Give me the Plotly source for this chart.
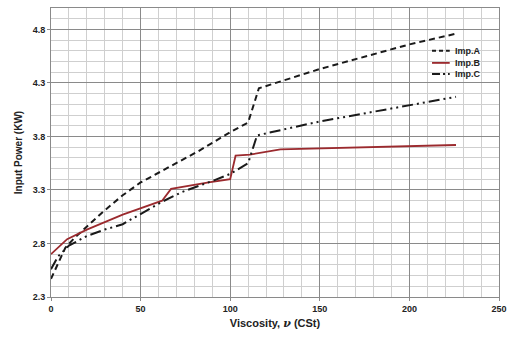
import plotly.graph_objects as go

# Data
imp_a_x = [0, 8, 13, 20, 30, 40, 50, 82, 100, 110, 113, 116, 150, 200, 226]
imp_a_y = [2.47, 2.76, 2.85, 2.96, 3.11, 3.25, 3.37, 3.66, 3.84, 3.93, 4.08, 4.25, 4.43, 4.66, 4.76]

imp_b_x = [0, 9, 20, 40, 62, 67, 88, 100, 103, 111, 128, 150, 200, 226]
imp_b_y = [2.70, 2.84, 2.93, 3.07, 3.20, 3.31, 3.37, 3.40, 3.62, 3.63, 3.68, 3.69, 3.71, 3.72]

imp_c_x = [0, 4, 10, 20, 30, 40, 62, 73, 91, 100, 110, 115, 150, 200, 226]
imp_c_y = [2.56, 2.68, 2.78, 2.87, 2.93, 2.98, 3.19, 3.28, 3.39, 3.45, 3.55, 3.81, 3.94, 4.09, 4.17]

series_names = ["Imp.A", "Imp.B", "Imp.C"]

FONT = "Liberation Sans Narrow, Liberation Sans, Arial"
TXT = "#222"

styles = [
    dict(color="#1a1a1a", width=2, dash="6px,4px"),
    dict(color="#9b2a2e", width=1.8, dash="solid"),
    dict(color="#1a1a1a", width=2, dash="11px,4px,2px,4px,2px,4px"),
]

fig = go.Figure()
for xs, ys, nm, st in zip([imp_a_x, imp_b_x, imp_c_x], [imp_a_y, imp_b_y, imp_c_y], series_names, styles):
    fig.add_trace(go.Scatter(x=xs, y=ys, mode="lines", name=nm, line=st, showlegend=False))

# Compact legend drawn in paper coordinates (line sample + label)
leg_x0, leg_x1, leg_tx = 0.8505, 0.890, 0.8967
leg_rows = [0.852, 0.810, 0.772]
for nm, st, yy in zip(series_names, styles, leg_rows):
    fig.add_shape(type="line", xref="paper", yref="paper", x0=leg_x0, x1=leg_x1, y0=yy, y1=yy,
                  line=dict(color=st["color"], width=st["width"],
                            dash="4px,3px" if st["dash"] == "6px,4px" else
                            ("8px,3px,2px,3px" if st["dash"] != "solid" else "solid")))
    fig.add_annotation(xref="paper", yref="paper", x=leg_tx, y=yy, text=nm, showarrow=False,
                       xanchor="left", yanchor="middle",
                       font=dict(family=FONT, size=9, color=TXT, weight="bold"))

fig.update_layout(
    width=514, height=341,
    margin=dict(l=51, r=8, t=7, b=44),
    paper_bgcolor="white", plot_bgcolor="white",
    font=dict(family=FONT, size=9, color=TXT),
    showlegend=False,
)

fig.update_xaxes(
    range=[0, 250], tick0=0, dtick=50,
    showgrid=True, gridcolor="#8a8a8a", gridwidth=1,
    minor=dict(dtick=10, tick0=0, showgrid=True, gridcolor="#cfcfcf", gridwidth=1),
    showline=True, linecolor="#8a8a8a", linewidth=1, mirror=True,
    ticks="outside", ticklen=3, tickcolor="#8a8a8a",
    zeroline=False,
    tickfont=dict(family=FONT, size=9, color=TXT, weight="bold"),
    title=dict(text="<b>Viscosity, <i><span style='font-family:DejaVu Serif'>ν</span></i> (CSt)</b>",
               font=dict(family=FONT, size=11, color=TXT), standoff=6),
)
fig.update_yaxes(
    range=[2.3, 5.0], tick0=2.3, dtick=0.5, tickformat=".1f",
    showgrid=True, gridcolor="#8a8a8a", gridwidth=1,
    minor=dict(dtick=0.1, tick0=2.3, showgrid=True, gridcolor="#cfcfcf", gridwidth=1),
    showline=True, linecolor="#8a8a8a", linewidth=1, mirror=True,
    ticks="outside", ticklen=3, tickcolor="#8a8a8a",
    zeroline=False,
    tickfont=dict(family=FONT, size=9, color=TXT, weight="bold"),
    title=dict(text="<b>Input Power (KW)</b>",
               font=dict(family=FONT, size=10, color=TXT), standoff=8),
)

fig.write_html("out.html")
